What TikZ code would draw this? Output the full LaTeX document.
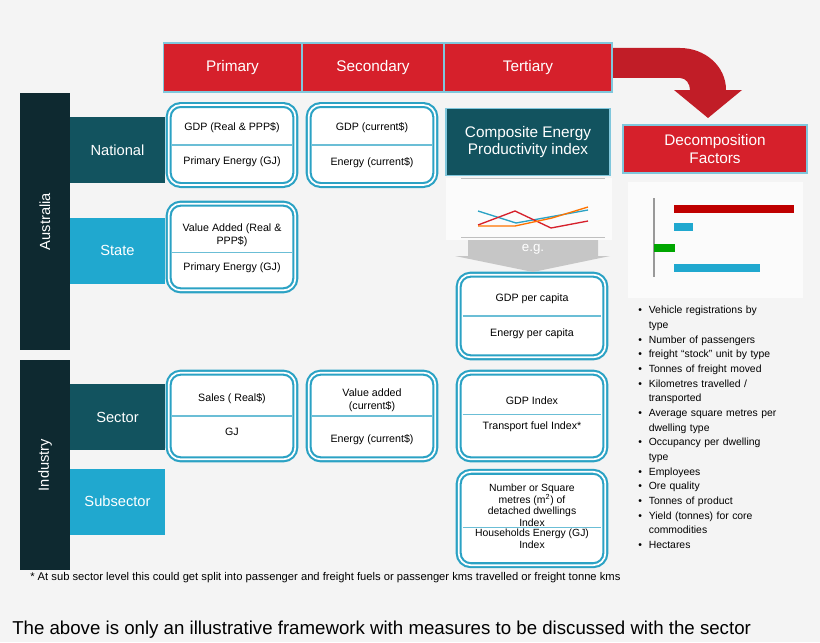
\documentclass[tikz,border=0pt]{standalone}
\usepackage{fontspec}
\setmainfont{Liberation Sans}
\usetikzlibrary{positioning,shapes.geometric,arrows.meta}
\definecolor{hdrred}{HTML}{D6202B}
\definecolor{darkbar}{HTML}{0E2930}
\definecolor{teal}{HTML}{12535F}
\definecolor{skyblue}{HTML}{20A8CF}
\definecolor{rim}{HTML}{2BA2C4}
\definecolor{bg}{HTML}{F4F4F4}
\tikzset{
  hdr/.style={fill=hdrred,draw=rim!60,line width=0.8pt,text=white,font=\fontsize{11.5}{13}\selectfont,inner sep=0pt},
  level/.style={fill=#1,text=white,font=\fontsize{11}{13}\selectfont,inner sep=0pt,minimum width=71.25pt,minimum height=49.5pt},
  measure/.style={draw=rim,fill=white,rounded corners=9pt,line width=1.6pt,double=white,double distance=1.3pt,
    minimum width=95pt,inner sep=0pt},
  mtext/.style={font=\fontsize{8}{9.5}\selectfont,align=center,inner sep=0pt},
  divider/.style={draw=rim!70,line width=0.9pt},
  bullet/.style={font=\fontsize{7.8}{11}\selectfont,anchor=north west,align=left,inner sep=0pt,text width=118pt}
}
\begin{document}
\begin{tikzpicture}[x=0.75pt,y=-0.75pt]
\fill[bg] (0,0) rectangle (820,642);
\clip (0,0) rectangle (820,642);
%% column headers
\node[hdr,minimum width=104pt,minimum height=36.75pt] (primary) at (232.5,67.5) {Primary};
\node[hdr,minimum width=106.5pt,minimum height=36.75pt] (secondary) at (373,67.5) {Secondary};
\node[hdr,minimum width=126pt,minimum height=36.75pt] (tertiary) at (528,67.5) {Tertiary};
%% big red turning arrow
\fill[hdrred!90!black] (613,48) -- (680,48) to[out=0,in=90] (726,90) -- (742,90) -- (708,118) -- (674,90) -- (690,90)
  to[out=90,in=0] (680,78) -- (613,78) -- cycle;
%% row bars
\node[fill=darkbar,minimum width=37.5pt,minimum height=192.75pt,inner sep=0pt] (australia) at (45,221.5) {};
\node[rotate=90,text=white,font=\fontsize{11}{13}\selectfont] at (australia) {Australia};
\node[fill=darkbar,minimum width=37.5pt,minimum height=157.5pt,inner sep=0pt] (industry) at (45,465) {};
\node[rotate=90,text=white,font=\fontsize{11}{13}\selectfont] at (industry) {Industry};
\node[level=teal] (national) at (117.5,150) {National};
\node[level=skyblue] (state) at (117.5,250.5) {State};
\node[level=teal] (sector) at (117.5,417) {Sector};
\node[level=skyblue] (subsector) at (117.5,501.5) {Subsector};
%% measure boxes
\node[measure,minimum height=60pt] (natP) at (232,145) {};
\draw[divider] ([xshift=-45pt]natP.center) -- ([xshift=45pt]natP.center);
\node[mtext,above=9pt of natP.center] {GDP (Real \& PPP\$)};
\node[mtext,below=9pt of natP.center] {Primary Energy (GJ)};
\node[measure,minimum height=60pt] (natS) at (372,145) {};
\draw[divider] ([xshift=-45pt]natS.center) -- ([xshift=45pt]natS.center);
\node[mtext,above=9pt of natS.center] {GDP (current\$)};
\node[mtext,below=9pt of natS.center] {Energy (current\$)};
\node[measure,minimum height=65pt] (staP) at (232,247) {};
\draw[divider] ([xshift=-45pt,yshift=-4pt]staP.center) -- ([xshift=45pt,yshift=-4pt]staP.center);
\node[mtext,above=0pt of staP.center] {Value Added (Real \&\\PPP\$)};
\node[mtext,below=12pt of staP.center] {Primary Energy (GJ)};
\node[measure,minimum height=62pt,minimum width=110pt] (capita) at (532,316) {};
\draw[divider] ([xshift=-52pt]capita.center) -- ([xshift=52pt]capita.center);
\node[mtext,above=9pt of capita.center] {GDP per capita};
\node[mtext,below=9pt of capita.center] {Energy per capita};
\node[measure,minimum height=65pt] (secP) at (232,416) {};
\draw[divider] ([xshift=-45pt]secP.center) -- ([xshift=45pt]secP.center);
\node[mtext,above=9pt of secP.center] {Sales ( Real\$)};
\node[mtext,below=9pt of secP.center] {GJ};
\node[measure,minimum height=65pt] (secS) at (372,416) {};
\draw[divider] ([xshift=-45pt]secS.center) -- ([xshift=45pt]secS.center);
\node[mtext,above=3pt of secS.center] {Value added\\(current\$)};
\node[mtext,below=14pt of secS.center] {Energy (current\$)};
\node[measure,minimum height=65pt,minimum width=110pt] (secT) at (532,416) {};
\draw[divider] ([xshift=-52pt,yshift=1pt]secT.center) -- ([xshift=52pt,yshift=1pt]secT.center);
\node[mtext,above=8pt of secT.center] {GDP Index};
\node[mtext,below=4pt of secT.center] {Transport fuel Index*};
\node[measure,minimum height=70pt,minimum width=110pt] (subT) at (532,518.5) {};
\draw[divider] ([xshift=-52pt,yshift=-7pt]subT.center) -- ([xshift=52pt,yshift=-7pt]subT.center);
\node[mtext,above=-6pt of subT.center,font=\fontsize{7.8}{8.6}\selectfont] {Number or Square\\metres (m\textsuperscript{2}) of\\detached dwellings\\Index};
\node[mtext,below=8pt of subT.center,font=\fontsize{7.8}{8.6}\selectfont] {Households Energy (GJ)\\Index};
%% composite index panel
\node[fill=teal,draw=rim!60,line width=0.8pt,text=white,minimum width=123pt,minimum height=50pt,align=center,
  font=\fontsize{11.5}{13}\selectfont,inner sep=0pt] (composite) at (528,142) {Composite Energy\\Productivity index};
\fill[white!60!bg] (446,178) rectangle (612,240);
\draw[gray!50] (461,178) -- (605,178);
\draw[gray!50] (461,237) -- (605,237);
\draw[rim,line width=1pt] (478,211) -- (516,223) -- (555,216) -- (588,210);
\draw[hdrred,line width=1pt] (478,225) -- (515,211) -- (551,228) -- (588,221);
\draw[orange!90!red,line width=1pt] (478,226) -- (515,226) -- (552,218) -- (588,207);
\fill[gray!45] (468,240) -- (598,240) -- (598,256) -- (610,256) -- (533,272) -- (455,256) -- (468,256) -- cycle;
\node[text=white,font=\fontsize{10}{12}\selectfont] (eg) at (533,249) {e.g.};
%% decomposition panel
\node[hdr,minimum width=138pt,minimum height=36pt,align=center,font=\fontsize{11.5}{13}\selectfont] (decomp) at (715,149) {Decomposition\\Factors};
\fill[white!60!bg] (628,182) rectangle (803,298);
\draw[gray!80,line width=0.8pt] (654,198) -- (654,277);
\fill[red!75!black] (674,205) rectangle (794,213);
\fill[skyblue] (674,223) rectangle (693,231);
\fill[green!65!black] (654,244) rectangle (675,252);
\fill[skyblue] (674,264) rectangle (760,272);
%% factor list
\node[bullet] (factors) at (638,306) {%
\textbullet\ \ Vehicle registrations by\\\phantom{\textbullet\ \ }type\\
\textbullet\ \ Number of passengers\\
\textbullet\ \ freight ``stock'' unit by type\\
\textbullet\ \ Tonnes of freight moved\\
\textbullet\ \ Kilometres travelled /\\\phantom{\textbullet\ \ }transported\\
\textbullet\ \ Average square metres per\\\phantom{\textbullet\ \ }dwelling type\\
\textbullet\ \ Occupancy per dwelling\\\phantom{\textbullet\ \ }type\\
\textbullet\ \ Employees\\
\textbullet\ \ Ore quality\\
\textbullet\ \ Tonnes of product\\
\textbullet\ \ Yield (tonnes) for core\\\phantom{\textbullet\ \ }commodities\\
\textbullet\ \ Hectares};
%% notes
\node[anchor=west,font=\fontsize{8.4}{9}\selectfont,inner sep=0pt] (footnote) at (30,578) {* At sub sector level this could get split into passenger and freight fuels or passenger kms travelled or freight tonne kms};
\node[anchor=west,font=\fontsize{14}{16}\selectfont,inner sep=0pt] (remark) at (12,630) {The above is only an illustrative framework with measures to be discussed with the sector};
\end{tikzpicture}
\end{document}
